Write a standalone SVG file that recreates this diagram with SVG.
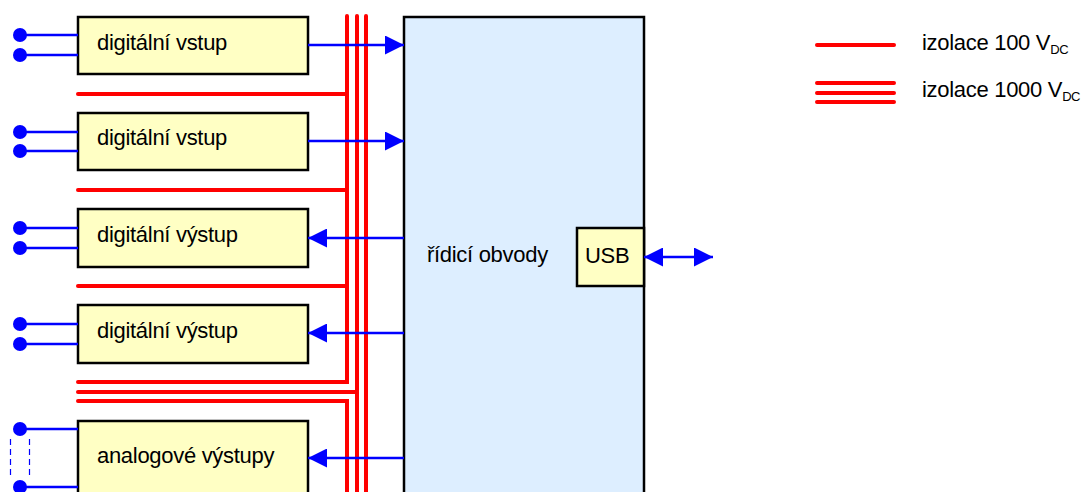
<svg xmlns="http://www.w3.org/2000/svg" width="1086" height="492" viewBox="0 0 1086 492">
<defs>
<style>
.box{fill:#ffffc4;stroke:#000;stroke-width:2.5}
.main{fill:#ddeeff;stroke:#000;stroke-width:2.5}
.red{fill:none;stroke:#ff0000;stroke-width:4;stroke-linecap:round;stroke-linejoin:miter}
.blue{fill:none;stroke:#0000ff;stroke-width:2.5}
.dash{fill:none;stroke:#0000ff;stroke-width:1.2;stroke-dasharray:6,4}
.dot{fill:#0000ff}
.t{font-family:"Liberation Sans",Arial,sans-serif;font-size:22px;letter-spacing:-0.3px;fill:#000}
.sub{font-size:13px;letter-spacing:-0.4px}
</style>
<marker id="ah" viewBox="0 0 10 10" refX="10" refY="5" markerWidth="7.6" markerHeight="7.6" orient="auto-start-reverse" markerUnits="strokeWidth">
<path d="M0,0 L10,5 L0,10 z" fill="#0000ff"/>
</marker>
</defs>

<g id="insulation">
<path class="red" d="M347,16 V382 H78"/>
<path class="red" d="M78,401 H347 V500"/>
<path class="red" d="M78,392 H357"/>
<path class="red" d="M357,16 V500"/>
<path class="red" d="M366,16 V500"/>
<path class="red" d="M78,94 H347"/>
<path class="red" d="M78,190 H347"/>
<path class="red" d="M78,286 H347"/>
</g>

<g id="control">
<rect class="main" x="404" y="17" width="240" height="490"/>
<text class="t" x="427" y="262">řídicí obvody</text>
</g>

<g id="usb">
<rect class="box" x="577" y="228" width="67" height="58"/>
<text class="t" x="585" y="263">USB</text>
</g>

<g id="box1">
<rect class="box" x="78" y="17" width="230" height="57"/>
<text class="t" x="97" y="50">digitální vstup</text>
</g>
<g id="box2">
<rect class="box" x="78" y="113" width="230" height="57"/>
<text class="t" x="97" y="145">digitální vstup</text>
</g>
<g id="box3">
<rect class="box" x="78" y="209" width="230" height="58"/>
<text class="t" x="97" y="242">digitální výstup</text>
</g>
<g id="box4">
<rect class="box" x="78" y="305" width="230" height="58"/>
<text class="t" x="97" y="338">digitální výstup</text>
</g>
<g id="box5">
<rect class="box" x="78" y="421" width="230" height="90"/>
<text class="t" x="97" y="463">analogové výstupy</text>
</g>

<g id="connectors">
<line class="blue" x1="308" y1="45" x2="404" y2="45" marker-end="url(#ah)"/>
<line class="blue" x1="308" y1="141" x2="404" y2="141" marker-end="url(#ah)"/>
<line class="blue" x1="404" y1="238" x2="308" y2="238" marker-end="url(#ah)"/>
<line class="blue" x1="404" y1="333" x2="308" y2="333" marker-end="url(#ah)"/>
<line class="blue" x1="404" y1="458" x2="308" y2="458" marker-end="url(#ah)"/>
<line class="blue" x1="644" y1="257" x2="713" y2="257" marker-start="url(#ah)" marker-end="url(#ah)"/>

<line class="blue" x1="20" y1="35" x2="78" y2="35"/>
<line class="blue" x1="20" y1="55" x2="78" y2="55"/>
<line class="blue" x1="20" y1="132" x2="78" y2="132"/>
<line class="blue" x1="20" y1="151" x2="78" y2="151"/>
<line class="blue" x1="20" y1="228" x2="78" y2="228"/>
<line class="blue" x1="20" y1="248" x2="78" y2="248"/>
<line class="blue" x1="20" y1="324" x2="78" y2="324"/>
<line class="blue" x1="20" y1="344" x2="78" y2="344"/>
<line class="blue" x1="20" y1="429" x2="78" y2="429"/>
<line class="blue" x1="20" y1="487" x2="78" y2="487"/>
<line class="dash" x1="10.5" y1="439" x2="10.5" y2="477"/>
<line class="dash" x1="29.5" y1="439" x2="29.5" y2="477"/>

<circle class="dot" cx="20" cy="35" r="7"/>
<circle class="dot" cx="20" cy="55" r="7"/>
<circle class="dot" cx="20" cy="132" r="7"/>
<circle class="dot" cx="20" cy="151" r="7"/>
<circle class="dot" cx="20" cy="228" r="7"/>
<circle class="dot" cx="20" cy="248" r="7"/>
<circle class="dot" cx="20" cy="324" r="7"/>
<circle class="dot" cx="20" cy="344" r="7"/>
<circle class="dot" cx="20" cy="429" r="7"/>
<circle class="dot" cx="20" cy="487" r="7"/>
</g>

<g id="legend">
<path class="red" d="M817,45 H894"/>
<path class="red" d="M817,83 H894 M817,93 H894 M817,102 H894"/>
<text class="t" x="922" y="50">izolace 100 V<tspan class="sub" dy="4">DC</tspan></text>
<text class="t" x="922" y="97">izolace 1000 V<tspan class="sub" dy="4">DC</tspan></text>
</g>
</svg>
